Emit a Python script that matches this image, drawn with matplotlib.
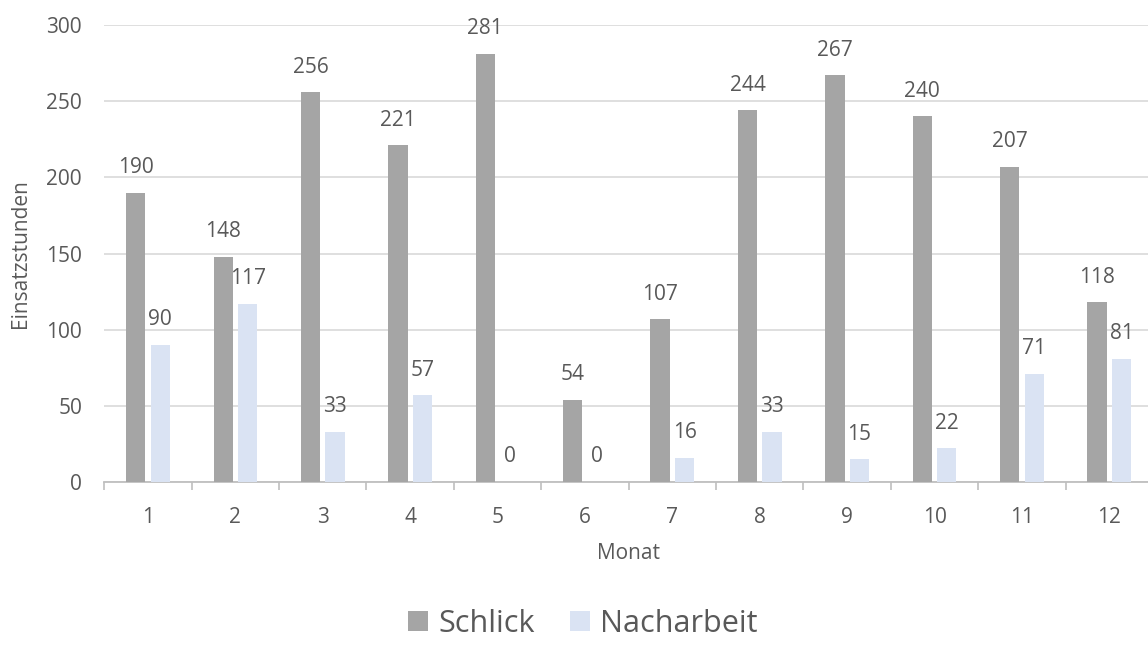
import matplotlib
matplotlib.use("Agg")
import matplotlib.pyplot as plt
import numpy as np

plt.rcParams['font.family'] = ['Open Sans', 'DejaVu Sans']

months = ["1", "2", "3", "4", "5", "6", "7", "8", "9", "10", "11", "12"]
schlick = [190, 148, 256, 221, 281, 54, 107, 244, 267, 240, 207, 118]
nacharbeit = [90, 117, 33, 57, 0, 0, 16, 33, 15, 22, 71, 81]

text_col = "#595959"
W, H = 1148, 646
fig = plt.figure(figsize=(W / 100, H / 100), dpi=100)
# axes box in pixel terms: x from 104 to 1153, y from 25 (300) to 482 (0)
ax = fig.add_axes([104.3 / W, 1 - 482 / H, (1153 - 104.3) / W, (482 - 25) / H])

x = np.arange(len(months))
off = 0.14
bw = 0.22
b1 = ax.bar(x - off, schlick, bw, color="#a5a5a5", label="Schlick", zorder=3)
b2 = ax.bar(x + off, nacharbeit, bw, color="#dae3f3", label="Nacharbeit", zorder=3)

fs = 15
for bars, vals in ((b1, schlick), (b2, nacharbeit)):
    for r, v in zip(bars, vals):
        ax.annotate(str(v), (r.get_x() + r.get_width() / 2, v),
                    xytext=(0, 18), textcoords="offset points",
                    ha="center", va="center", fontsize=fs, color=text_col)

ax.set_xlim(-0.5, len(months) - 0.5)
ax.set_ylim(0, 300)
ax.set_yticks(np.arange(0, 301, 50))
ax.yaxis.grid(True, color="#d9d9d9", linewidth=1.2, zorder=0)
ax.tick_params(axis="y", length=0, pad=16, labelsize=fs, labelcolor=text_col)

# month labels centred, tick marks on the category boundaries
ax.set_xticks(x)
ax.set_xticklabels(months)
ax.set_xticks(np.arange(-0.5, len(months), 1), minor=True)
ax.tick_params(axis="x", which="major", length=0, pad=18, labelsize=fs, labelcolor=text_col)
ax.tick_params(axis="x", which="minor", length=6, width=1.2, color="#bfbfbf")

for s in ("top", "right", "left"):
    ax.spines[s].set_visible(False)
ax.spines["bottom"].set_color("#bfbfbf")
ax.spines["bottom"].set_linewidth(1.3)

ax.set_xlabel("Monat", fontsize=fs, color=text_col, labelpad=11)
ax.set_ylabel("Einsatzstunden", fontsize=fs, color=text_col)
ax.yaxis.set_label_coords(-(104.3 - 31) / (1153 - 104.3), 0.5)

fig.legend(handles=[b1, b2], loc="center", bbox_to_anchor=(583 / W, 1 - 624 / H),
           ncol=2, frameon=False, fontsize=22, labelcolor=text_col,
           borderpad=0.1, handlelength=0.64, handleheight=0.64,
           handletextpad=0.35, columnspacing=1.15)

fig.savefig("out.png", dpi=100)
